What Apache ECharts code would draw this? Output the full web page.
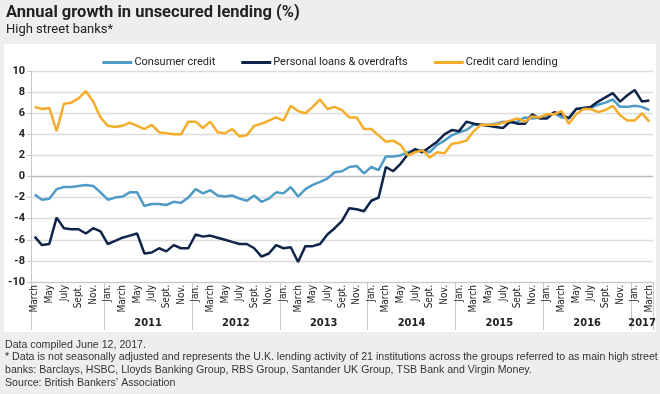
<!DOCTYPE html>
<html><head><meta charset="utf-8">
<script src="https://cdn.jsdelivr.net/npm/echarts@6/dist/echarts.min.js"></script>
<style>html,body{margin:0;padding:0;background:#eeeeee;}#c{width:660px;height:394px;}</style>
</head><body><div id="c"></div>
<script>
// ---- data ----
const startYear = 2010, startMonth = 2, monthCount = 85; // March 2010 .. March 2017
const monthLabels = ['Jan.','','March','','May','','July','','Sept.','','Nov.',''];
const yearLabels = ['2011','2012','2013','2014','2015','2016','2017'];
const seriesNames = ['Consumer credit','Personal loans & overdrafts','Credit card lending'];
const consumerCredit = [-1.7,-2.2,-2.1,-1.2,-1.0,-1.0,-0.9,-0.8,-0.9,-1.5,
 -2.2,-2.0,-1.9,-1.5,-1.5,-2.8,-2.6,-2.6,-2.7,-2.4,-2.5,-2.0,
 -1.2,-1.6,-1.3,-1.8,-1.9,-1.8,-2.1,-2.3,-1.8,-2.4,-2.1,-1.5,
 -1.6,-1.0,-1.9,-1.2,-0.8,-0.5,-0.2,0.4,0.5,0.9,1.0,0.3,
 0.9,0.6,1.9,1.9,2.0,2.3,2.5,2.5,2.3,3.0,3.4,3.9,
 4.2,4.4,4.9,4.9,4.9,5.0,5.2,5.1,5.2,5.6,5.5,5.6,
 5.8,6.0,5.6,5.6,6.4,6.5,6.5,6.8,7.0,7.3,6.6,6.6,
 6.7,6.6,6.3];
const personalLoans = [-5.7,-6.5,-6.4,-3.9,-4.9,-5.0,-5.0,-5.4,-4.9,-5.2,
 -6.4,-6.1,-5.8,-5.6,-5.4,-7.3,-7.2,-6.8,-7.1,-6.5,-6.8,-6.8,
 -5.5,-5.7,-5.6,-5.8,-6.0,-6.2,-6.4,-6.4,-6.8,-7.6,-7.3,-6.5,
 -6.8,-6.7,-8.1,-6.6,-6.6,-6.4,-5.5,-4.9,-4.2,-3.0,-3.1,-3.3,
 -2.3,-2.0,0.9,0.5,1.2,2.1,2.6,2.3,2.8,3.3,4.0,4.4,
 4.3,5.2,5.0,4.9,4.8,4.7,4.6,5.2,5.0,5.0,5.9,5.5,
 5.5,6.1,5.9,5.5,6.4,6.5,6.6,7.1,7.5,7.9,7.1,7.7,
 8.2,7.1,7.2];
const creditCard = [6.6,6.4,6.5,4.3,6.9,7.0,7.4,8.1,7.1,5.6,
 4.8,4.7,4.8,5.1,4.8,4.5,4.9,4.2,4.1,4.0,4.0,5.2,
 5.2,4.6,5.2,4.2,4.1,4.5,3.8,3.9,4.8,5.0,5.3,5.6,
 5.3,6.7,6.2,6.0,6.6,7.3,6.4,6.6,6.3,5.6,5.6,4.5,
 4.5,3.9,3.3,3.4,3.0,2.0,2.3,2.5,1.8,2.3,2.2,3.1,
 3.2,3.4,4.3,4.9,4.9,4.9,5.1,5.3,5.5,5.2,5.7,5.6,
 5.9,5.9,6.2,5.0,5.9,6.4,6.4,6.1,6.3,6.7,5.8,5.3,
 5.3,6.0,5.2];
const yTicks = {min: -10, max: 10, step: 2};
const colors = ['#4f9bc6', '#0f2448', '#f3ad2b'];

// ---- build ----
const categories = [];
for (let i = 0; i < monthCount; i++) {
  const m = (startMonth + i) % 12;
  const y = startYear + Math.floor((startMonth + i) / 12);
  categories.push(y + '-' + (m + 1));
}
const monthOf = c => parseInt(c.split('-')[1], 10) - 1;
const yearOf = c => c.split('-')[0];
const yearAnchor = {};
yearLabels.forEach(yl => {
  const idx = categories.map((c, i) => [c, i]).filter(p => yearOf(p[0]) === yl).map(p => p[1]);
  yearAnchor[Math.floor((idx[0] + idx[idx.length - 1]) / 2)] = {text: yl, even: idx.length % 2 === 0};
});

const condFont = '"DejaVu Sans Condensed", sans-serif';
const chart = echarts.init(document.getElementById('c'));
chart.setOption({
  backgroundColor: '#eeeeee',
  animation: false,
  color: colors,
  graphic: [
    {type: 'rect', z: -10, silent: true, shape: {x: 4, y: 44, width: 652, height: 288}, style: {fill: '#ffffff'}},
    {type: 'text', x: 6, y: 4, style: {text: 'Annual growth in unsecured lending (%)', font: 'bold 16.5px Roboto, sans-serif', fill: '#222'}},
    {type: 'text', x: 6, y: 23, style: {text: 'High street banks*', font: '13px Roboto, sans-serif', fill: '#222'}},
    {type: 'text', x: 5, y: 338, scaleX: 0.915, originX: 0, originY: 0, style: {
      text: 'Data compiled June 12, 2017.\n* Data is not seasonally adjusted and represents the U.K. lending activity of 21 institutions across the groups referred to as main high street\nbanks: Barclays, HSBC, Lloyds Banking Group, RBS Group, Santander UK Group, TSB Bank and Virgin Money.\nSource: British Bankers\u2019 Association',
      font: '11.6px "Liberation Sans", Arial, sans-serif', fill: '#333', lineHeight: 12.8}}
  ],
  legend: {
    top: 52, left: 'center', icon: 'rect', itemWidth: 30, itemHeight: 3, itemGap: 26,
    textStyle: {fontFamily: 'Roboto, sans-serif', fontSize: 11, color: '#222', padding: [0, 0, 0, -3]},
    data: seriesNames
  },
  grid: {left: 31, right: 7, top: 71, bottom: 112, containLabel: false},
  xAxis: [{
    type: 'category', data: categories, boundaryGap: true,
    axisLine: {show: true, onZero: false, lineStyle: {color: '#c9c9c9', width: 1}},
    axisTick: {show: true, alignWithLabel: false, length: 48, lineStyle: {color: '#c9c9c9'},
      interval: (i, v) => i === 0 || monthOf(v) === 0},
    axisLabel: {interval: 0, rotate: 90, margin: 3, fontSize: 10, color: '#222', fontFamily: condFont,
      formatter: v => monthLabels[monthOf(v)]}
  }, {
    type: 'category', data: categories, boundaryGap: true, position: 'bottom',
    axisLine: {show: false, onZero: false}, axisTick: {show: false},
    axisLabel: {interval: 0, margin: 36, fontSize: 11, fontWeight: 'bold', color: '#222', fontFamily: condFont,
      formatter: (v, i) => yearAnchor[i] ? (yearAnchor[i].even ? '{e|' + yearAnchor[i].text + '}' : '{o|' + yearAnchor[i].text + '}') : '',
      rich: {e: {padding: [0, 0, 0, 7.3], fontSize: 11, fontWeight: 'bold', fontFamily: condFont, color: '#222'},
             o: {fontSize: 11, fontWeight: 'bold', fontFamily: condFont, color: '#222'}}}
  }],
  yAxis: {
    type: 'value', min: yTicks.min, max: yTicks.max, interval: yTicks.step,
    axisLine: {show: true, lineStyle: {color: '#c9c9c9'}},
    axisTick: {show: true, length: 4, lineStyle: {color: '#c9c9c9'}},
    axisLabel: {fontSize: 11, color: '#222', fontWeight: 'bold', fontFamily: 'Roboto, sans-serif', margin: 6},
    splitLine: {lineStyle: {color: ['#dcdcdc','#dcdcdc','#dcdcdc','#dcdcdc','#dcdcdc','#bdbdbd','#dcdcdc','#dcdcdc','#dcdcdc','#dcdcdc','#dcdcdc'], width: 1.3}}
  },
  series: [
    {name: seriesNames[0], type: 'line', data: consumerCredit, symbol: 'none', lineStyle: {width: 2.5}},
    {name: seriesNames[1], type: 'line', data: personalLoans, symbol: 'none', lineStyle: {width: 2.5}},
    {name: seriesNames[2], type: 'line', data: creditCard, symbol: 'none', lineStyle: {width: 2.5}}
  ]
});
</script></body></html>
